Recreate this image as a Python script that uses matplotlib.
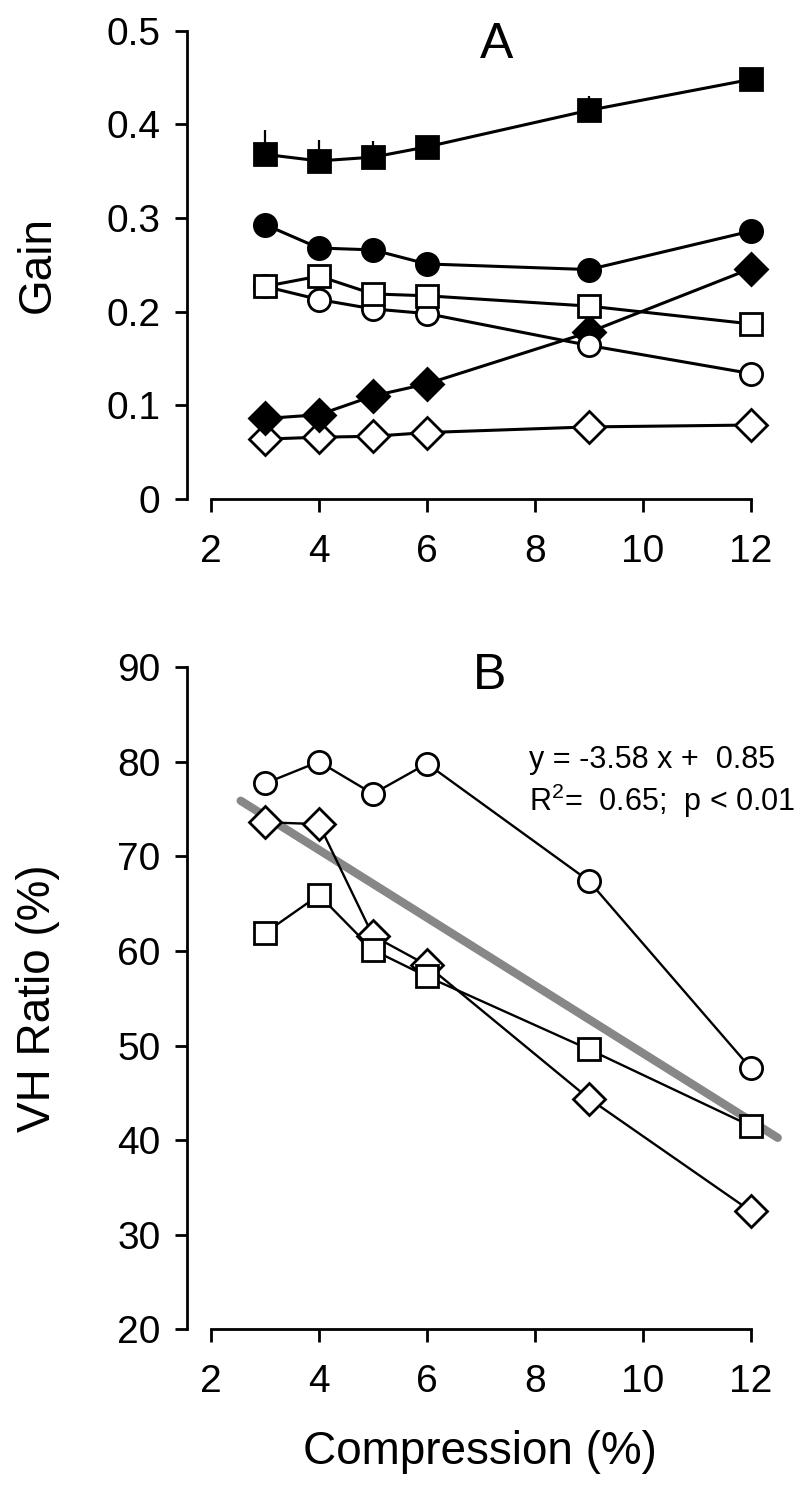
import matplotlib
matplotlib.use("Agg")
import matplotlib.pyplot as plt
import numpy as np

plt.rcParams["font.family"] = ["Liberation Sans", "DejaVu Sans"]
plt.rcParams["mathtext.fontset"] = "custom"
plt.rcParams["mathtext.rm"] = "Liberation Sans"
plt.rcParams["mathtext.it"] = "Liberation Sans:italic"

# ---- data ----
compression = [3, 4, 5, 6, 9, 12]

# panel A: gain
gain_filled_sq = [0.368, 0.361, 0.365, 0.376, 0.415, 0.448]
gain_filled_sq_err = [0.026, 0.022, 0.017, 0.0, 0.015, 0.0]
gain_filled_circ = [0.293, 0.268, 0.266, 0.251, 0.245, 0.286]
gain_open_sq = [0.227, 0.238, 0.219, 0.217, 0.206, 0.187]
gain_open_circ = [0.227, 0.213, 0.203, 0.198, 0.164, 0.134]
gain_filled_dia = [0.086, 0.090, 0.110, 0.123, 0.178, 0.246]
gain_open_dia = [0.064, 0.066, 0.067, 0.071, 0.077, 0.079]

# panel B: VH ratio (%)
vh_circ = [77.7, 80.0, 76.6, 79.8, 67.4, 47.6]
vh_dia = [73.6, 73.4, 61.6, 58.5, 44.4, 32.5]
vh_sq = [61.9, 65.9, 60.1, 57.3, 49.6, 41.5]

# regression line (slope, intercept in %), drawn over x range
fit_slope, fit_icpt = -3.58, 85.0
fit_x = [2.55, 12.5]

XTICKS = [2, 4, 6, 8, 10, 12]
TICK_FS = 28
LABEL_FS = 33
PANEL_FS = 36
MS = 16


def style_axes(ax, ylo, yhi, yticks, yticklabels):
    ax.set_xlim(1.55, 12.8)
    ax.set_ylim(ylo, yhi)
    for s in ("top", "right"):
        ax.spines[s].set_visible(False)
    ax.spines["left"].set_bounds(ylo, yhi)
    ax.spines["bottom"].set_bounds(2, 12)
    for s in ("left", "bottom"):
        ax.spines[s].set_linewidth(2)
    ax.set_xticks(XTICKS)
    ax.set_xticklabels([str(t) for t in XTICKS])
    ax.set_yticks(yticks)
    ax.set_yticklabels(yticklabels)
    ax.tick_params(axis="both", direction="out", length=9, width=2,
                   labelsize=TICK_FS)
    ax.tick_params(axis="x", pad=16)
    ax.tick_params(axis="y", pad=10)


fig = plt.figure(figsize=(8, 14.91), dpi=100)
axA = fig.add_axes([0.2334, 0.6653, 0.759, 0.3141])
axB = fig.add_axes([0.2334, 0.1084, 0.759, 0.4442])

# ---- panel A ----
LW_A = 2.2
line_kw = dict(color="k", lw=LW_A, ms=MS, mew=2, mec="k", clip_on=False)
axA.plot(compression, gain_open_dia, "-D", mfc="white", zorder=2, **line_kw)
axA.plot(compression, gain_filled_dia, "-D", mfc="k", zorder=3, **line_kw)
axA.plot(compression, gain_open_circ, "-o", mfc="white", zorder=4, **line_kw)
axA.plot(compression, gain_open_sq, "-s", mfc="white", zorder=5, **line_kw)
axA.plot(compression, gain_filled_circ, "-o", mfc="k", zorder=6, **line_kw)
axA.errorbar(compression, gain_filled_sq,
             yerr=[np.zeros(len(gain_filled_sq_err)), gain_filled_sq_err],
             fmt="none", ecolor="k", elinewidth=1.6, capsize=0, zorder=6.5)
axA.plot(compression, gain_filled_sq, "-s", mfc="k", zorder=7, **line_kw)
style_axes(axA, 0, 0.5, [0, 0.1, 0.2, 0.3, 0.4, 0.5],
           ["0", "0.1", "0.2", "0.3", "0.4", "0.5"])
axA.text(7.3, 0.485, "A", fontsize=PANEL_FS, ha="center", va="center")
axA.set_ylabel("Gain", fontsize=LABEL_FS, ha="center", va="center")
axA.yaxis.set_label_coords(-0.245, 0.5)

# ---- panel B ----
fx = np.array(fit_x)
axB.plot(fx, fit_slope * fx + fit_icpt, color="#878787", lw=6,
         solid_capstyle="round", zorder=1)
kwB = dict(color="k", lw=1.7, ms=MS, mew=2, mec="k", mfc="white",
           clip_on=False)
axB.plot(compression, vh_circ, "-o", zorder=3, **kwB)
axB.plot(compression, vh_dia, "-D", zorder=4, **kwB)
axB.plot(compression, vh_sq, "-s", zorder=5, **kwB)
style_axes(axB, 20, 90, [20, 30, 40, 50, 60, 70, 80, 90],
           ["20", "30", "40", "50", "60", "70", "80", "90"])
axB.text(7.17, 89.05, "B", fontsize=PANEL_FS, ha="center", va="center")
axB.text(7.9, 80.2, "y = -3.58 x +  0.85", fontsize=22, ha="left", va="center")
axB.text(7.9, 75.9, r"R$^2$=  0.65;  p < 0.01", fontsize=22, ha="left",
         va="center")
axB.set_ylabel("VH Ratio (%)", fontsize=LABEL_FS, ha="center", va="center")
axB.yaxis.set_label_coords(-0.245, 0.5)
axB.set_xlabel("Compression (%)", fontsize=LABEL_FS, ha="center", va="center")
axB.xaxis.set_label_coords(0.483, -0.185)

fig.savefig("out.png", dpi=100)
